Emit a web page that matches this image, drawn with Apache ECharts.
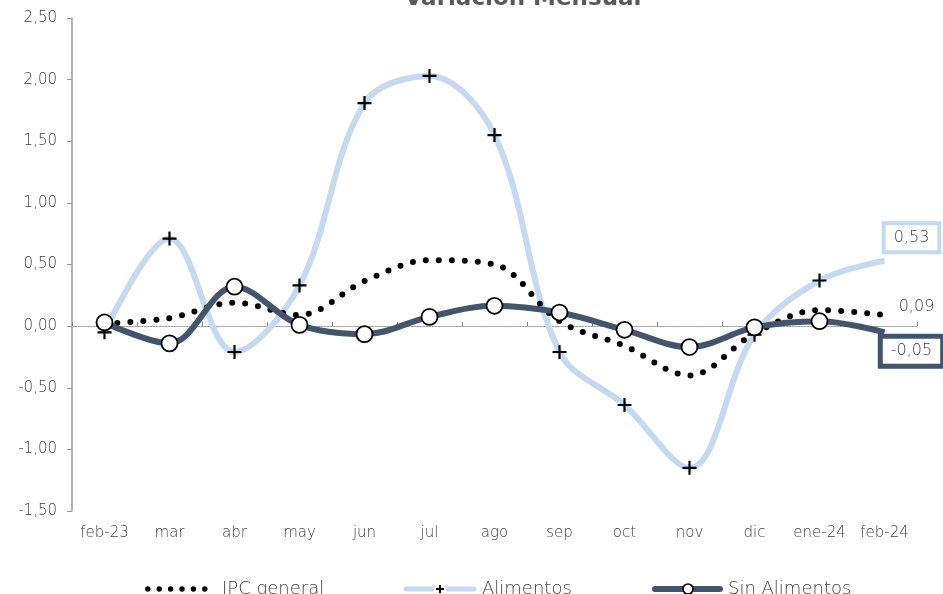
<!DOCTYPE html>
<html><head><meta charset="utf-8">
<script src="https://cdn.jsdelivr.net/npm/echarts@6/dist/echarts.min.js"></script>
<style>html,body{margin:0;padding:0;background:#fff}#c{width:943px;height:594px}</style>
</head><body><div id="c"></div>
<script>
const categories = ['feb-23','mar','abr','may','jun','jul','ago','sep','oct','nov','dic','ene-24','feb-24'];
const ipcGeneral = [0.02, 0.065, 0.19, 0.09, 0.365, 0.535, 0.50, 0.04, -0.16, -0.40, -0.06, 0.13, 0.09];
const alimentos = [-0.05, 0.71, -0.21, 0.33, 1.81, 2.03, 1.55, -0.21, -0.64, -1.15, -0.07, 0.37, 0.53];
const sinAlimentos = [0.03, -0.14, 0.32, 0.01, -0.065, 0.075, 0.165, 0.11, -0.03, -0.17, -0.01, 0.04, -0.05];
const yMin = -1.5, yMax = 2.5, yInterval = 0.5;

const FONT = '"DejaVu Sans", sans-serif';
const FW = 200;
const TXT = '#404040';
const LIGHT = '#c6d9f0';
const DARK = '#44546a';
const SMOOTH = 0.35;
const fmt = v => v.toFixed(2).replace('.', ',');

function withEndLabel(arr, labelOpt) {
  return arr.map((v, i) => {
    if (i !== arr.length - 1) return v;
    return { value: v, symbolSize: 0, label: Object.assign({ show: true, formatter: p => fmt(p.value), fontFamily: FONT, fontWeight: FW, fontSize: 16, color: TXT, position: 'inside' }, labelOpt) };
  });
}

const plusPath = 'path://M-1.1,-7 L1.1,-7 L1.1,-1.1 L7,-1.1 L7,1.1 L1.1,1.1 L1.1,7 L-1.1,7 L-1.1,1.1 L-7,1.1 L-7,-1.1 L-1.1,-1.1 Z';
const svgIcon = (w, body) => 'image://data:image/svg+xml;utf8,' + encodeURIComponent(
  `<svg xmlns="http://www.w3.org/2000/svg" width="${w}" height="14" viewBox="0 0 ${w} 14">${body}</svg>`);
const iconIPC = svgIcon(72, [0, 1, 2, 3, 4, 5].map(i => `<circle cx="${2.8 + i * 11.4}" cy="7" r="2.7" fill="#000"/>`).join(''));
const iconAli = svgIcon(74, `<line x1="3" y1="7" x2="71" y2="7" stroke="${LIGHT}" stroke-width="5" stroke-linecap="round"/>` +
  `<rect x="31" y="0" width="12" height="14" fill="#fff"/>` +
  `<line x1="33" y1="7" x2="41" y2="7" stroke="#000" stroke-width="2"/><line x1="37" y1="3" x2="37" y2="11" stroke="#000" stroke-width="2"/>`);
const iconSin = svgIcon(71, `<line x1="3" y1="7" x2="68" y2="7" stroke="${DARK}" stroke-width="6" stroke-linecap="round"/>` +
  `<circle cx="36" cy="7" r="5" fill="#fff" stroke="#000" stroke-width="1.7"/>`);

const legendBase = {
  bottom: -4, padding: 0, itemHeight: 14, selectedMode: false, itemGap: 0,
  textStyle: { fontFamily: FONT, fontWeight: FW, fontSize: 18, color: TXT }
};

const chart = echarts.init(document.getElementById('c'), null, { renderer: 'canvas' });
chart.setOption({
  animation: false,
  backgroundColor: '#fff',
  title: {
    text: 'Variación Mensual', left: 518, top: -17, textAlign: 'center',
    textStyle: { fontFamily: FONT, fontWeight: 'bold', fontSize: 23, color: '#595959' }
  },
  grid: { left: 72, right: 26, top: 18, bottom: 83, containLabel: false },
  legend: [
    Object.assign({}, legendBase, { left: 145, itemWidth: 72, data: [{ name: 'IPC general', icon: iconIPC }] }),
    Object.assign({}, legendBase, { left: 403, itemWidth: 74, data: [{ name: 'Alimentos', icon: iconAli }] }),
    Object.assign({}, legendBase, { left: 652, itemWidth: 71, data: [{ name: 'Sin Alimentos', icon: iconSin }] })
  ],
  xAxis: [
    {
      type: 'category', data: categories, position: 'bottom',
      axisLine: { show: false, onZero: false }, axisTick: { show: false },
      axisLabel: { fontFamily: FONT, fontWeight: FW, fontSize: 15, color: TXT, margin: 15, interval: 0 }
    },
    {
      type: 'category', data: categories, position: 'bottom',
      axisLine: { show: true, onZero: true, lineStyle: { color: '#a0a0a0', width: 1, type: [2, 1] } },
      axisTick: { show: true, inside: true, length: 4, lineStyle: { color: '#808080' } },
      axisLabel: { show: false }
    }
  ],
  yAxis: {
    type: 'value', min: yMin, max: yMax, interval: yInterval,
    splitLine: { show: false },
    axisLine: { show: true, lineStyle: { color: '#9a9a9a', width: 1.5 } },
    axisTick: { show: true, length: 5, lineStyle: { color: '#9a9a9a' } },
    axisLabel: { fontFamily: FONT, fontWeight: FW, fontSize: 15, color: TXT, margin: 15, formatter: v => fmt(v) }
  },
  series: [
    {
      name: 'IPC general', type: 'line', smooth: SMOOTH, z: 3,
      data: withEndLabel(ipcGeneral, { offset: [32, -8] }),
      showSymbol: true, symbol: 'circle', symbolSize: 0,
      lineStyle: { color: '#000', width: 6, type: [0, 13], cap: 'round' },
      itemStyle: { color: '#000' }
    },
    {
      name: 'Alimentos', type: 'line', smooth: SMOOTH, z: 2,
      data: withEndLabel(alimentos, {
        offset: [27, -23], backgroundColor: '#fff', borderColor: LIGHT, borderWidth: 4,
        padding: [5, 8, 4, 8]
      }),
      symbol: plusPath, symbolSize: 14,
      lineStyle: { color: LIGHT, width: 6 },
      itemStyle: { color: '#000' }
    },
    {
      name: 'Sin Alimentos', type: 'line', smooth: SMOOTH, z: 4,
      data: withEndLabel(sinAlimentos, {
        offset: [27, 19], backgroundColor: '#fff', borderColor: DARK, borderWidth: 5,
        padding: [5, 8, 4, 8]
      }),
      symbol: 'circle', symbolSize: 16,
      lineStyle: { color: DARK, width: 6 },
      itemStyle: { color: '#fff', borderColor: '#000', borderWidth: 1.8 }
    }
  ]
});
</script></body></html>
